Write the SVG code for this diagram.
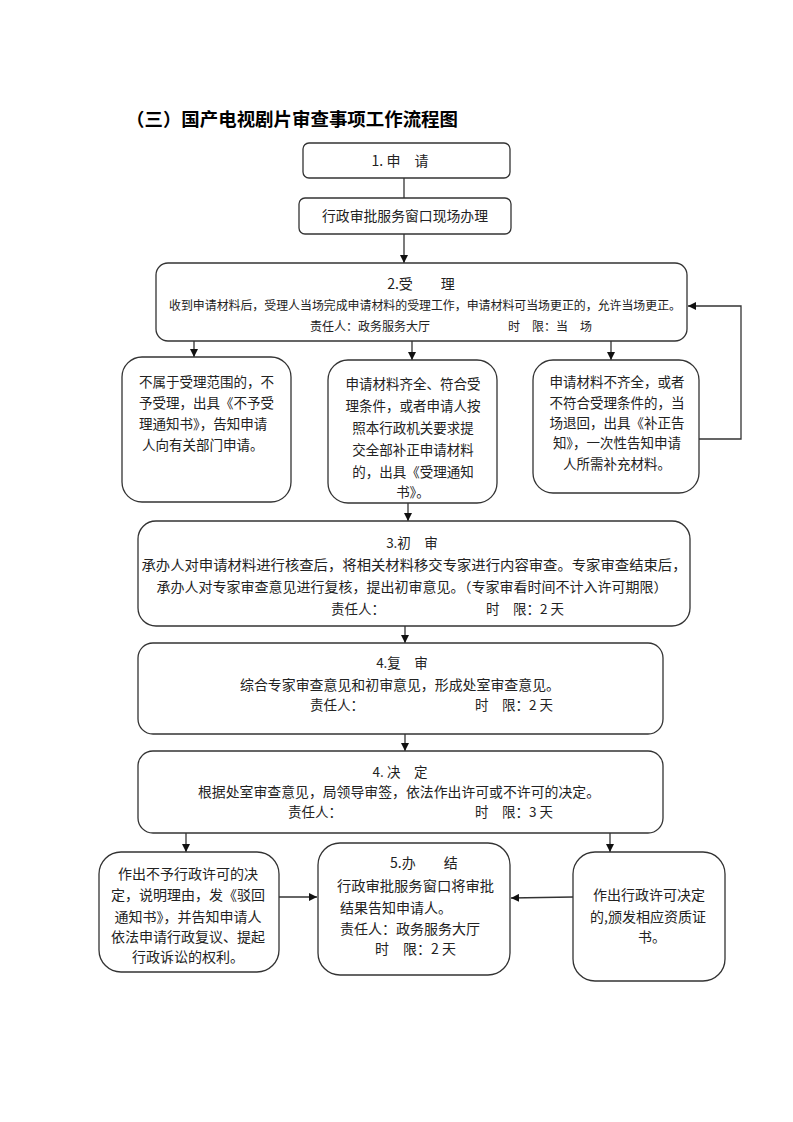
<svg xmlns="http://www.w3.org/2000/svg" width="793" height="1122" viewBox="0 0 793 1122">
<defs>
<style>
.box{fill:#fff;stroke:#333;stroke-width:1.3}
.t{font-family:"Noto Sans CJK SC","Liberation Sans",sans-serif;font-size:13.5px;fill:#222}
.s{font-size:12px}
.c{text-anchor:middle}
.ttl{font-family:"Noto Sans CJK SC","Liberation Sans",sans-serif;font-size:18px;font-weight:bold;fill:#000}
.ln{fill:none;stroke:#333;stroke-width:1.3}
</style>
<marker id="ah" viewBox="0 0 10 10" refX="10" refY="5" markerWidth="8" markerHeight="8" markerUnits="userSpaceOnUse" orient="auto">
<path d="M0,0 L10,5 L0,10 z" fill="#111"/>
</marker>
</defs>
<rect width="793" height="1122" fill="#fff"/>
<text class="ttl" x="126" y="126" textLength="332" lengthAdjust="spacingAndGlyphs">（三）国产电视剧片审查事项工作流程图</text>

<g id="connectors">
<line class="ln" x1="404" y1="178" x2="404" y2="198"/>
<line class="ln" x1="404" y1="234" x2="404" y2="263" marker-end="url(#ah)"/>
<line class="ln" x1="194" y1="341" x2="194" y2="357" marker-end="url(#ah)"/>
<line class="ln" x1="412" y1="341" x2="412" y2="360" marker-end="url(#ah)"/>
<line class="ln" x1="611" y1="341" x2="611" y2="360" marker-end="url(#ah)"/>
<polyline class="ln" points="699,439 741,439 741,306 688,306" marker-end="url(#ah)"/>
<line class="ln" x1="408" y1="503" x2="408" y2="521" marker-end="url(#ah)"/>
<line class="ln" x1="405" y1="626" x2="405" y2="643" marker-end="url(#ah)"/>
<line class="ln" x1="405" y1="734" x2="405" y2="751" marker-end="url(#ah)"/>
<line class="ln" x1="186" y1="833" x2="186" y2="852" marker-end="url(#ah)"/>
<line class="ln" x1="610" y1="833" x2="610" y2="852" marker-end="url(#ah)"/>
<line class="ln" x1="279" y1="897" x2="317" y2="897" marker-end="url(#ah)"/>
<line class="ln" x1="573" y1="897" x2="511" y2="898" marker-end="url(#ah)"/>
</g>

<g id="n1">
<rect class="box" x="303" y="143" width="207" height="35" rx="6"/>
<text class="t c" x="400" y="166" style="font-size:14px">1. 申　请</text>
</g>
<g id="n1b">
<rect class="box" x="299" y="198" width="212" height="36" rx="6"/>
<text class="t c" x="405" y="221" textLength="166" lengthAdjust="spacingAndGlyphs">行政审批服务窗口现场办理</text>
</g>
<g id="n2">
<rect class="box" x="156" y="263" width="531" height="78" rx="12"/>
<text class="t c" x="421" y="289" style="font-size:14px">2.受　　理</text>
<text class="t s c" x="425" y="310" textLength="512" lengthAdjust="spacingAndGlyphs">收到申请材料后，受理人当场完成申请材料的受理工作，申请材料可当场更正的，允许当场更正。</text>
<text class="t s" x="310" y="331">责任人：政务服务大厅</text>
<text class="t s" x="508" y="331">时　限：当　场</text>
</g>
<g id="nA">
<rect class="box" x="122" y="357" width="169" height="145" rx="20"/>
<text class="t" x="139" y="387">不属于受理范围的，不</text>
<text class="t" x="139" y="408">予受理，出具《不予受</text>
<text class="t" x="139" y="429">理通知书》，告知申请</text>
<text class="t" x="142" y="450">人向有关部门申请。</text>
</g>
<g id="nB">
<rect class="box" x="328" y="360" width="169" height="143" rx="20"/>
<text class="t c" x="413" y="389">申请材料齐全、符合受</text>
<text class="t c" x="413" y="411">理条件，或者申请人按</text>
<text class="t c" x="413" y="433">照本行政机关要求提</text>
<text class="t c" x="413" y="455">交全部补正申请材料</text>
<text class="t c" x="413" y="477">的，出具《受理通知</text>
<text class="t c" x="413" y="497">书》。</text>
</g>
<g id="nC">
<rect class="box" x="533" y="360" width="166" height="133" rx="20"/>
<text class="t c" x="617" y="387">申请材料不齐全，或者</text>
<text class="t c" x="617" y="408">不符合受理条件的，当</text>
<text class="t c" x="617" y="428">场退回，出具《补正告</text>
<text class="t c" x="617" y="448">知》，一次性告知申请</text>
<text class="t c" x="617" y="469">人所需补充材料。</text>
</g>
<g id="n3">
<rect class="box" x="138" y="521" width="552" height="105" rx="18"/>
<text class="t c" x="412" y="548">3.初　审</text>
<text class="t c" x="414" y="570" textLength="545" lengthAdjust="spacingAndGlyphs">承办人对申请材料进行核查后，将相关材料移交专家进行内容审查。专家审查结束后，</text>
<text class="t c" x="412" y="592" textLength="511" lengthAdjust="spacingAndGlyphs">承办人对专家审查意见进行复核，提出初审意见。（专家审看时间不计入许可期限）</text>
<text class="t" x="331" y="614">责任人：</text>
<text class="t" x="486" y="614">时　限：2 天</text>
</g>
<g id="n4">
<rect class="box" x="138" y="643" width="525" height="91" rx="15"/>
<text class="t c" x="402" y="668">4.复　审</text>
<text class="t c" x="400" y="690" textLength="320" lengthAdjust="spacingAndGlyphs">综合专家审查意见和初审意见，形成处室审查意见。</text>
<text class="t" x="310" y="710">责任人：</text>
<text class="t" x="475" y="710">时　限：2 天</text>
</g>
<g id="n5">
<rect class="box" x="138" y="751" width="525" height="82" rx="15"/>
<text class="t c" x="400" y="777">4. 决　定</text>
<text class="t c" x="399" y="797" textLength="402" lengthAdjust="spacingAndGlyphs">根据处室审查意见，局领导审签，依法作出许可或不许可的决定。</text>
<text class="t" x="288" y="817">责任人：</text>
<text class="t" x="475" y="817">时　限：3 天</text>
</g>
<g id="nD">
<rect class="box" x="99" y="852" width="180" height="120" rx="22"/>
<text class="t c" x="188" y="879" style="font-size:14px">作出不予行政许可的决</text>
<text class="t c" x="188" y="900" style="font-size:14px">定，说明理由，发《驳回</text>
<text class="t c" x="188" y="922" style="font-size:14px">通知书》，并告知申请人</text>
<text class="t c" x="188" y="942" style="font-size:14px">依法申请行政复议、提起</text>
<text class="t c" x="188" y="962" style="font-size:14px">行政诉讼的权利。</text>
</g>
<g id="nE">
<rect class="box" x="318" y="843" width="192" height="132" rx="22"/>
<text class="t" x="390" y="868" style="font-size:14px">5.办　　结</text>
<text class="t" x="337" y="891" style="font-size:14px" textLength="157" lengthAdjust="spacingAndGlyphs">行政审批服务窗口将审批</text>
<text class="t" x="340" y="913" style="font-size:14px">结果告知申请人。</text>
<text class="t" x="340" y="934" style="font-size:14px">责任人：政务服务大厅</text>
<text class="t" x="375" y="954" style="font-size:14px">时　限：2 天</text>
</g>
<g id="nF">
<rect class="box" x="573" y="852" width="152" height="129" rx="22"/>
<text class="t c" x="649" y="900" style="font-size:14px">作出行政许可决定</text>
<text class="t c" x="648" y="922" style="font-size:14px">的,颁发相应资质证</text>
<text class="t c" x="652" y="942" style="font-size:14px">书。</text>
</g>
</svg>
